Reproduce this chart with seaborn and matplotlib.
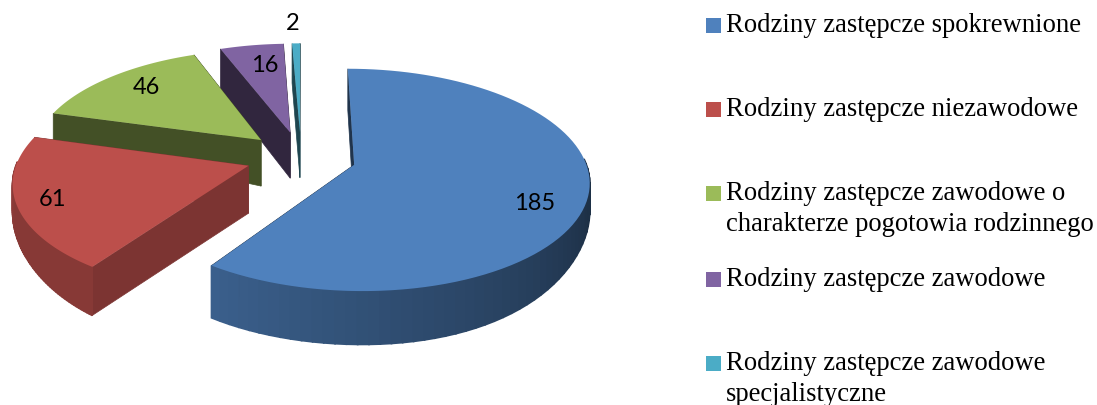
import numpy as np
import matplotlib
matplotlib.use('Agg')
import matplotlib.pyplot as plt
from matplotlib.patches import Rectangle
import seaborn as sns

# data
categories = ['Rodziny zastępcze spokrewnione',
              'Rodziny zastępcze niezawodowe',
              'Rodziny zastępcze zawodowe o\ncharakterze pogotowia rodzinnego',
              'Rodziny zastępcze zawodowe',
              'Rodziny zastępcze zawodowe\nspecjalistyczne']
values = [185, 61, 46, 16, 2]
explode = [0.24, 0.24, 0.24, 0.24, 0.24]
colors = sns.color_palette(['#4f81bd', '#bc4f4b', '#9bbb59', '#8064a2', '#4bacc6'])

# shading of the sides: start and end of the rim, then the flat walls
rim_shade = [(0.74, 0.37), (0.85, 0.72), (0.45, 0.45), (0.4, 0.4), (0.5, 0.5)]
wall_shade = [0.4, 0.66, 0.43, 0.38, 0.4]

label_pos = [(535, 204), (52, 199), (146, 87), (265, 65), (293, 23)]
legend_y = [24, 108, 192, 278, 362]

# projection settings (pixels)
cx, cy = 301, 157
sx, sy = 230, 107
persp = 0.135

sns.set_theme(style='white')
fig = plt.figure(figsize=(10.97, 4.05), dpi=100)
ax = fig.add_axes([0, 0, 1, 1])

# pie gives the angles and the exploded centres
wedges, _ = ax.pie(values, explode=explode, startangle=90, counterclock=False,
                   colors=colors, radius=1)
ax.set_aspect('auto')
ax.set_xlim(0, 1097)
ax.set_ylim(405, 0)
ax.axis('off')


def project(x, y, bottom=False):
    s = 1 / (1 + persp * y)
    px = cx + sx * x * s
    py = cy - sy * y * s
    if bottom:
        py = py + 47 - 6 * y - 9.5 * x ** 4
    return px, py


def shade(col, f):
    return tuple(c * f for c in col)


# back to front so the blue slice ends up on top
order = [4, 3, 2, 1, 0]
for i in order:
    w = wedges[i]
    col = colors[i]
    x0, y0 = w.center
    th = np.radians(np.linspace(w.theta1, w.theta2, 90))
    ax_x = x0 + np.cos(th)
    ax_y = y0 + np.sin(th)

    # flat walls
    for k in [0, -1]:
        xs = np.array([x0, ax_x[k]])
        ys = np.array([y0, ax_y[k]])
        tx, ty = project(xs, ys)
        bx, by = project(xs, ys, bottom=True)
        ax.fill(np.r_[tx, bx[::-1]], np.r_[ty, by[::-1]],
                color=shade(col, wall_shade[i]), lw=0.5, zorder=i * -3 + 20)

    # rim in small strips so it can have a gradient, back of the rim is hidden
    tx, ty = project(ax_x, ax_y)
    bx, by = project(ax_x, ax_y, bottom=True)
    start, end = rim_shade[i]
    for j in range(len(th) - 1):
        if np.sin(th[j]) > 0.05:
            continue
        # theta grows left to right along the front of the pie
        frac = min(1, j / (len(th) * 0.5))
        c = shade(col, start + (end - start) * frac)
        ax.fill([tx[j], tx[j + 1], bx[j + 1], bx[j]],
                [ty[j], ty[j + 1], by[j + 1], by[j]],
                facecolor=c, edgecolor=c, lw=1.2, zorder=i * -3 + 20)

    # top face
    ptx, pty = project(np.r_[x0, ax_x], np.r_[y0, ax_y])
    ax.fill(ptx, pty, color=col, lw=0, zorder=i * -3 + 21)
    w.remove()

for val, (lx, ly) in zip(values, label_pos):
    ax.text(lx, ly, str(val), ha='center', va='center', color='black',
            family='Lato', fontsize=17, zorder=40)

# legend written by hand because the row gaps are not even
for cat, col, ly in zip(categories, colors, legend_y):
    ax.add_patch(Rectangle((706, ly - 6), 15, 15, color=col, lw=0))
    ax.text(726, ly - 11, cat, ha='left', va='top', color='black',
            family='Liberation Serif', fontsize=19.2, linespacing=1.3)

fig.savefig('out.png', dpi=100)
